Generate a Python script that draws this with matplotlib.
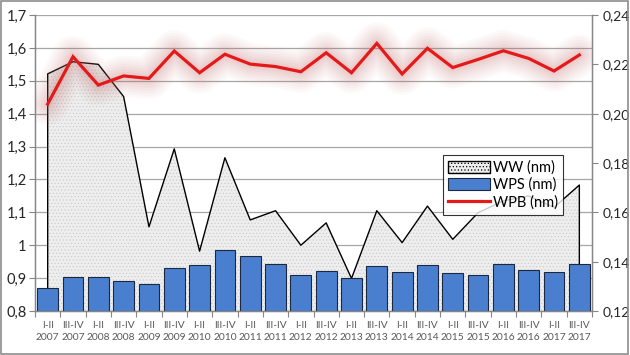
import numpy as np
import matplotlib
matplotlib.use('Agg')
from matplotlib import pyplot as plt
from matplotlib.patches import Patch, Rectangle
from matplotlib.lines import Line2D
from matplotlib.ticker import FixedLocator, FuncFormatter

plt.rcParams['font.family'] = ['Lato', 'DejaVu Sans']
plt.rcParams['hatch.linewidth'] = 0.5

# okresy (półrocza)
okresy = ['I-II\n2007', 'III-IV\n2007', 'I-II\n2008', 'III-IV\n2008', 'I-II\n2009', 'III-IV\n2009',
          'I-II\n2010', 'III-IV\n2010', 'I-II\n2011', 'III-IV\n2011', 'I-II\n2012', 'III-IV\n2012',
          'I-II\n2013', 'III-IV\n2013', 'I-II\n2014', 'III-IV\n2014', 'I-II\n2015', 'III-IV\n2015',
          'I-II\n2016', 'III-IV\n2016', 'I-II\n2017', 'III-IV\n2017']
# WW (lewa oś)
ww = [1.521, 1.558, 1.550, 1.452, 1.056, 1.293, 0.982, 1.266, 1.077, 1.105, 1.000,
      1.068, 0.899, 1.105, 1.008, 1.119, 1.018, 1.099, 1.135, 1.150, 1.115, 1.183]
# WPS (lewa oś)
wps = [0.871, 0.902, 0.902, 0.890, 0.882, 0.930, 0.939, 0.985, 0.966, 0.943, 0.908,
       0.922, 0.900, 0.936, 0.919, 0.939, 0.915, 0.908, 0.943, 0.926, 0.918, 0.943]
# WPB (prawa oś)
wpb = [0.2039, 0.2231, 0.2116, 0.2153, 0.2143, 0.2254, 0.2166, 0.2241, 0.2201, 0.2191, 0.2170,
       0.2247, 0.2166, 0.2285, 0.2161, 0.2265, 0.2187, 0.2220, 0.2255, 0.2224, 0.2173, 0.2238]

x = np.arange(len(okresy))

fig = plt.figure(figsize=(6.3, 3.55), dpi=100)
ax = fig.add_axes([0.0556, 0.1239, 0.8841, 0.8338])
ax2 = ax.twinx()

# siatka
ax.set_ylim(0.8, 1.7)
ax.set_yticks(np.arange(0.8, 1.71, 0.1))
ax.yaxis.grid(True, color='#a6a6a6', linewidth=0.9, zorder=0)
ax.set_axisbelow(True)

# WW - pole
xs = np.concatenate([[x[0]], x, [x[-1]]])
ys = np.concatenate([[0.8], ww, [0.8]])
ax.fill(xs, ys, facecolor='#eeeeee', edgecolor='#cdcdcd', hatch='.....', linewidth=0, zorder=1)
ax.plot(xs, ys, color='black', linewidth=1.0, zorder=2)

# WPS - słupki
ax.bar(x, [v - 0.8 for v in wps], bottom=0.8, width=0.82, color='#4a7fcf',
       edgecolor='#1a2840', linewidth=0.8, zorder=3)

# WPB - linia z poświatą
ax2.set_ylim(0.12, 0.24)
for lw, a in [(30, 0.035), (26, 0.04), (22, 0.045), (18, 0.05), (14, 0.06), (10, 0.07), (6, 0.08)]:
    ax2.plot(x, wpb, color='#c87070', linewidth=lw, alpha=a, solid_capstyle='round',
             solid_joinstyle='round', zorder=4)
ax2.plot(x, wpb, color='#e41a1a', linewidth=2.3, solid_joinstyle='miter', zorder=5)

ax.set_xlim(-0.5, len(okresy) - 0.5)
ax.xaxis.set_major_locator(FixedLocator(np.arange(-0.5, len(okresy), 1.0)))
ax.xaxis.set_minor_locator(FixedLocator(x))
ax.xaxis.set_major_formatter(FuncFormatter(lambda v, p: ''))
ax.set_xticklabels(okresy, minor=True)
ax.tick_params(axis='x', which='major', length=4, color='#868686', direction='out')
ax.tick_params(axis='x', which='minor', length=0, pad=7, labelsize=7.4, labelcolor='#595959')
for t in ax.get_xticklabels(minor=True):
    t.set_linespacing(1.4)

ax.yaxis.set_major_formatter(FuncFormatter(
    lambda v, p: ('%g' % round(v, 1)).replace('.', ',')))
ax.tick_params(axis='y', length=4, color='#868686', labelsize=10.5, labelcolor='#262626', pad=2)

ax2.set_yticks(np.arange(0.12, 0.2401, 0.02))
ax2.yaxis.set_major_formatter(FuncFormatter(lambda v, p: ('%.2f' % v).replace('.', ',')))
ax2.tick_params(axis='y', length=4, color='#868686', labelsize=10, labelcolor='#262626', pad=4)

for a in (ax, ax2):
    a.spines['top'].set_visible(False)
    for s in ('left', 'right', 'bottom'):
        a.spines[s].set_color('#868686')
        a.spines[s].set_linewidth(0.9)

# legenda
h = [Patch(facecolor='#eeeeee', edgecolor='black', hatch='.....', linewidth=1.0),
     Patch(facecolor='#4a7fcf', edgecolor='#1a2840', linewidth=0.8),
     Line2D([], [], color='#e41a1a', linewidth=2.3)]
leg = ax2.legend(h, ['WW (nm)', 'WPS (nm)', 'WPB (nm)'], loc='upper left',
                 bbox_to_anchor=(0.703, 0.562), bbox_transform=fig.transFigure,
                 fontsize=10.5, frameon=True, fancybox=False, borderpad=0.35,
                 labelspacing=0.2, handlelength=2.9, handleheight=0.9, handletextpad=0.2,
                 borderaxespad=0)
leg.get_frame().set_edgecolor('black')
leg.get_frame().set_linewidth(0.8)
leg.set_zorder(10)

fig.patches.append(Rectangle((0.002, 0.003), 0.995, 0.993, transform=fig.transFigure,
                             fill=False, edgecolor='#8c8c8c', linewidth=1.2))

plt.savefig('out.png', dpi=100)
